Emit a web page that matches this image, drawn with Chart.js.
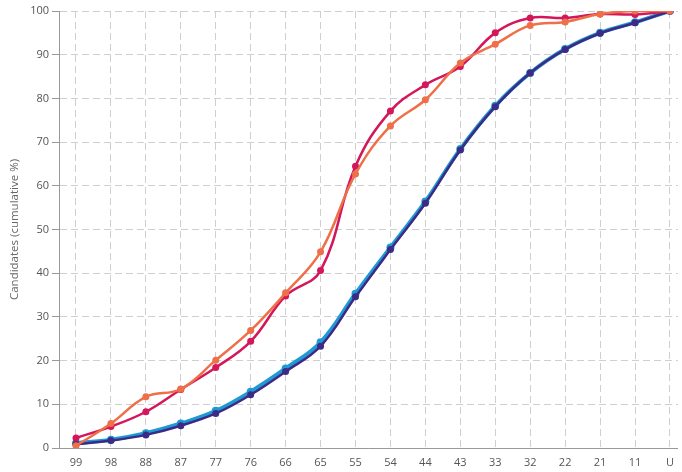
<!DOCTYPE html>
<html>
<head>
<meta charset="utf-8">
<script src="https://cdn.jsdelivr.net/npm/chart.js@4/dist/chart.umd.min.js"></script>
<style>
html,body{margin:0;padding:0;background:#fff;}
#wrap{width:682px;height:472px;position:relative;}
</style>
</head>
<body>
<div id="wrap"><canvas id="c" width="682" height="472"></canvas></div>
<script>
const categories = ['99','98','88','87','77','76','66','65','55','54','44','43','33','32','22','21','11','U'];
const redValues    = [2.3, 4.9, 8.3, 13.4, 18.4, 24.4, 34.8, 40.6, 64.5, 77.1, 83.1, 87.3, 95.0, 98.4, 98.4, 99.3, 99.2, 100];
const orangeValues = [0.5, 5.6, 11.7, 13.5, 20.1, 26.9, 35.5, 44.9, 62.7, 73.7, 79.7, 88.1, 92.4, 96.7, 97.5, 99.3, 100, 100];
const blueValues   = [1.1, 1.9, 3.4, 5.6, 8.5, 12.9, 18.2, 24.2, 35.3, 45.9, 56.4, 68.4, 78.3, 85.8, 91.3, 95.0, 97.4, 100];
const purpleValues = [0.9, 1.7, 3.0, 5.1, 7.9, 12.2, 17.5, 23.3, 34.6, 45.4, 56.0, 68.2, 78.1, 85.8, 91.2, 94.9, 97.3, 100];
const yTicks = [0,10,20,30,40,50,60,70,80,90,100];
const yTitle = 'Candidates (cumulative %)';

const toXY = arr => arr.map((v, i) => ({x: i, y: v}));
function ds(vals, color, width, radius) {
  return {
    data: toXY(vals),
    borderColor: color,
    backgroundColor: color,
    borderWidth: width,
    pointRadius: radius,
    pointBorderWidth: 0,
    pointBackgroundColor: color,
    tension: 0.4,
    fill: false
  };
}
const FONT = "'Open Sans', 'DejaVu Sans', sans-serif";
const gridColor = '#cfcfcf';
// axis range so that first category sits 17px inside the plot and spacing matches the reference
const spacing = (670 - 76) / 17;
const leftPad = (76 - 59) / spacing;
const rightSpan = (678 - 59) / spacing;

new Chart(document.getElementById('c'), {
  type: 'line',
  data: {
    datasets: [
      ds(orangeValues, '#ee6f48', 2.5, 3.5),
      ds(redValues, '#d3175a', 2.5, 3.5),
      ds(purpleValues, '#3d2a84', 2.5, 3.5),
      ds(blueValues, '#1d9ad6', 4, 4)
    ]
  },
  options: {
    responsive: false,
    animation: false,
    layout: {padding: {top: 11, right: 0, bottom: 0, left: 0}},
    plugins: {legend: {display: false}, tooltip: {enabled: false}},
    scales: {
      x: {
        type: 'linear',
        min: -leftPad,
        max: rightSpan - leftPad,
        afterBuildTicks: s => { s.ticks = categories.map((_, i) => ({value: i})); },
        afterFit: s => { s.height = 24; },
        ticks: {
          autoSkip: false, maxRotation: 0, padding: 8,
          color: '#555', font: {family: FONT, size: 11},
          callback: v => categories[v]
        },
        grid: {color: gridColor, lineWidth: 1, drawTicks: false},
        border: {display: true, color: '#999', width: 1, dash: [7, 4]}
      },
      y: {
        type: 'linear',
        min: 0, max: 100,
        afterBuildTicks: s => { s.ticks = yTicks.map(v => ({value: v})); },
        afterFit: s => { s.width = 59; },
        ticks: {padding: 3, color: '#555', font: {family: FONT, size: 11}},
        grid: {color: gridColor, lineWidth: 1, drawTicks: true, tickLength: 7, tickColor: '#999', tickBorderDash: []},
        border: {display: true, color: '#999', width: 1, dash: [7, 4]},
        title: {display: true, text: yTitle, color: '#666', font: {family: FONT, size: 11.5}, padding: {top: 8, bottom: 0}}
      }
    }
  }
});
</script>
</body>
</html>
